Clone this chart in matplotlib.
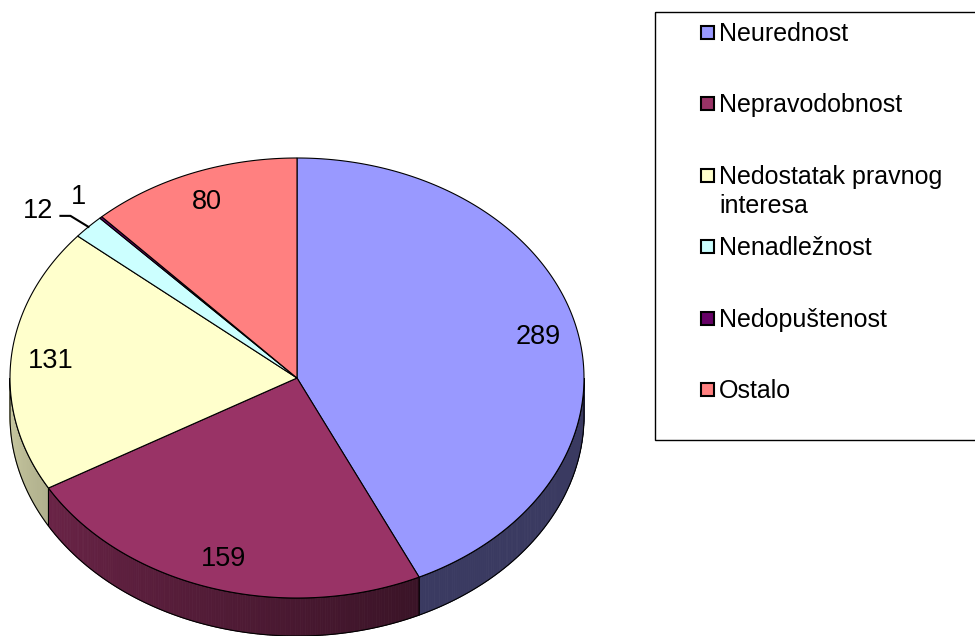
import numpy as np
import matplotlib
matplotlib.use("Agg")
import matplotlib.pyplot as plt
from matplotlib.patches import Polygon, Rectangle

plt.rcParams['font.family'] = ['Liberation Sans', 'DejaVu Sans']

# data
labels = ["Neurednost", "Nepravodobnost", "Nedostatak pravnog\ninteresa",
          "Nenadležnost", "Nedopuštenost", "Ostalo"]
values = [289, 159, 131, 12, 1, 80]
colors = ["#9999FF", "#993366", "#FFFFCC", "#CCFFFF", "#660066", "#FF8080"]

# pie geometry in pixels
cx, cy = 297, 378
rx, ry = 287, 220
depth = 38


def pt(theta, r=1.0, dz=0):
    t = np.radians(theta)
    return cx + r * rx * np.cos(t), cy - r * ry * np.sin(t) + dz


def shade(theta):
    # theta in (-180..0], left side lighter, right side darker
    a = -theta
    return max(0.38, 0.8 - 0.42 * (180 - a) / 115)


fig = plt.figure(figsize=(9.75, 6.36), dpi=100)
ax = fig.add_axes([0, 0, 1, 1])
ax.set_xlim(0, 975)
ax.set_ylim(636, 0)
ax.axis("off")

total = sum(values)
angles = [90]
for v in values:
    angles.append(angles[-1] - 360 * v / total)

# side walls (front half only)
for i, v in enumerate(values):
    a0, a1 = angles[i], angles[i + 1]
    for off in (0, -360, 360):
        lo, hi = max(a1 + off, -180), min(a0 + off, 0)
        if hi <= lo:
            continue
        base = np.array(matplotlib.colors.to_rgb(colors[i]))
        steps = np.linspace(hi, lo, max(2, int((hi - lo) / 0.5) + 1))
        for s0, s1 in zip(steps[:-1], steps[1:]):
            c = base * shade((s0 + s1) / 2)
            quad = [pt(s0), pt(s1), pt(s1, dz=depth), pt(s0, dz=depth)]
            ax.add_patch(Polygon(quad, closed=True, facecolor=c, edgecolor=c, lw=0.6))
        outline = [pt(t) for t in steps] + [pt(t, dz=depth) for t in steps[::-1]]
        ax.add_patch(Polygon(outline, closed=True, fill=False, edgecolor="black", lw=0.8))

# top face
for i, v in enumerate(values):
    a0, a1 = angles[i], angles[i + 1]
    ts = np.linspace(a0, a1, max(2, int(abs(a0 - a1) * 2) + 1))
    poly = [(cx, cy)] + [pt(t) for t in ts]
    ax.add_patch(Polygon(poly, closed=True, facecolor=colors[i], edgecolor="black", lw=0.8))

# data labels
for i, v in enumerate(values):
    mid = (angles[i] + angles[i + 1]) / 2
    if v >= 20:
        x, y = pt(mid, r=0.86)
        ax.text(x, y, str(v), fontsize=19.5, ha="center", va="center")
    elif v == 1:
        x, y = pt(mid)
        ax.text(x - 22, y - 20, str(v), fontsize=19.5, ha="center", va="center")
    else:
        x, y = pt(mid)
        ax.plot([x, x - 18, x - 28], [y, y - 11, y - 11], color="black", lw=1.5)
        ax.text(x - 50, y - 16, str(v), fontsize=19.5, ha="center", va="center")

# legend
ax.add_patch(Rectangle((655, 12), 330, 428, fill=False, edgecolor="black", lw=1))
for i, lab in enumerate(labels):
    y = 33 + i * 71.4
    ax.add_patch(Rectangle((701, y - 7), 13, 13, facecolor=colors[i],
                           edgecolor="black", lw=1.5))
    for j, line in enumerate(lab.split("\n")):
        ax.text(719, y + 8 + j * 29, line, fontsize=18, ha="left", va="baseline")

fig.savefig("out.png", dpi=100)
